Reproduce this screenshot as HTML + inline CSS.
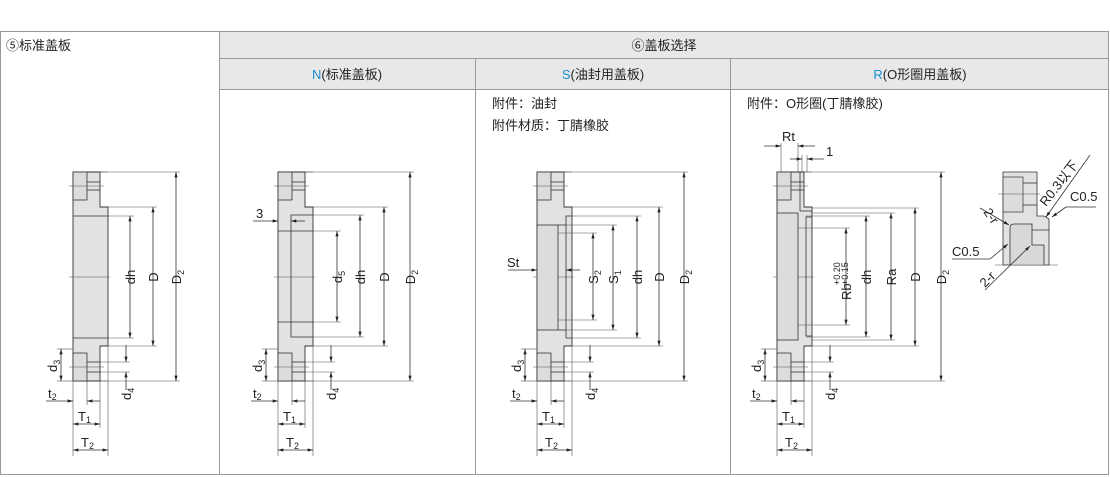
<!DOCTYPE html>
<html><head><meta charset="utf-8"><style>
body{margin:0;background:#fff;}
svg{display:block;font-family:"Liberation Sans","Noto Sans CJK SC",sans-serif;}
.t{font-size:13px;fill:#222;}
.d{font-size:13px;fill:#222;}
.r{font-size:13px;fill:#222;text-anchor:middle;}
.s{font-size:9px;fill:#222;}
.ln{stroke:#333;stroke-width:0.8;fill:none;}
.th{stroke:#555;stroke-width:0.6;fill:none;}
</style></head><body>
<svg width="1110" height="477" viewBox="0 0 1110 477" xmlns="http://www.w3.org/2000/svg">
<defs>
<marker id="a" viewBox="0 0 10 6" refX="10" refY="3" markerWidth="7" markerHeight="4" orient="auto-start-reverse"><path d="M0,0L10,3L0,6z" fill="#222"/></marker>
<g id="base">
<polygon points="73,172 100,172 100,207 108,207 108,346 100,346 100,381 73,381" fill="#e2e2e2" stroke="#333" stroke-width="0.9"/>
<rect x="73" y="172" width="14" height="28" fill="#dcdcdc" stroke="#333" stroke-width="0.8"/>
<rect x="73" y="353" width="14" height="28" fill="#dcdcdc" stroke="#333" stroke-width="0.8"/>
<line class="ln" x1="87" y1="182" x2="100" y2="182"/><line class="ln" x1="87" y1="190" x2="100" y2="190"/>
<line class="ln" x1="87" y1="362" x2="100" y2="362"/><line class="ln" x1="87" y1="372" x2="100" y2="372"/>
<line class="th" x1="69" y1="186" x2="104" y2="186"/><line class="th" x1="69" y1="367" x2="104" y2="367"/>
<line class="th" x1="69" y1="277" x2="110" y2="277"/>
<!-- d3 -->
<line class="th" x1="57" y1="349" x2="73" y2="349"/><line class="th" x1="57" y1="381" x2="73" y2="381"/>
<line class="ln" x1="61" y1="349" x2="61" y2="381" marker-start="url(#a)" marker-end="url(#a)"/>
<text class="d" transform="translate(57,372) rotate(-90)">d<tspan class="s" dy="3">3</tspan></text>
<!-- d4 -->
<line class="th" x1="100" y1="362" x2="130" y2="362"/><line class="th" x1="100" y1="372" x2="130" y2="372"/>
<line class="ln" x1="126" y1="345" x2="126" y2="362" marker-end="url(#a)"/><line class="ln" x1="126" y1="390" x2="126" y2="372" marker-end="url(#a)"/>
<text class="d" transform="translate(131,400) rotate(-90)">d<tspan class="s" dy="3">4</tspan></text>
<!-- t2 T1 T2 -->
<line class="th" x1="73" y1="381" x2="73" y2="456"/><line class="th" x1="87" y1="381" x2="87" y2="405"/>
<line class="th" x1="100" y1="381" x2="100" y2="428"/><line class="th" x1="108" y1="346" x2="108" y2="456"/>
<line class="ln" x1="46" y1="401" x2="73" y2="401" marker-end="url(#a)"/><line class="ln" x1="100" y1="401" x2="87" y2="401" marker-end="url(#a)"/>
<text class="d" x="48" y="398">t<tspan class="s" dy="2">2</tspan></text>
<line class="ln" x1="73" y1="424" x2="100" y2="424" marker-start="url(#a)" marker-end="url(#a)"/>
<text class="d" x="78" y="421">T<tspan class="s" dy="2">1</tspan></text>
<line class="ln" x1="73" y1="450" x2="108" y2="450" marker-start="url(#a)" marker-end="url(#a)"/>
<text class="d" x="81" y="447">T<tspan class="s" dy="2">2</tspan></text>
<line class="th" x1="100" y1="172" x2="108" y2="172"/><line class="th" x1="100" y1="381" x2="108" y2="381"/>
</g>
</defs>

<!-- table -->
<rect x="219.5" y="31.5" width="889" height="27" fill="#e8e8e8"/>
<rect x="219.5" y="58.5" width="889" height="31" fill="#e8e8e8"/>
<g stroke="#999" stroke-width="1" fill="none">
<rect x="0.5" y="31.5" width="1108" height="443"/>
<line x1="219.5" y1="31" x2="219.5" y2="475"/>
<line x1="219" y1="58.5" x2="1109" y2="58.5"/>
<line x1="219" y1="89.5" x2="1109" y2="89.5"/>
<line x1="475.5" y1="58" x2="475.5" y2="475"/>
<line x1="730.5" y1="58" x2="730.5" y2="475"/>
</g>
<text class="t" x="6" y="50">⑤标准盖板</text>
<text class="t" x="664" y="50" text-anchor="middle">⑥盖板选择</text>
<text class="t" x="347" y="79" text-anchor="middle"><tspan fill="#1a8fd0">N</tspan>(标准盖板)</text>
<text class="t" x="603" y="79" text-anchor="middle"><tspan fill="#1a8fd0">S</tspan>(油封用盖板)</text>
<text class="t" x="920" y="79" text-anchor="middle"><tspan fill="#1a8fd0">R</tspan>(O形圈用盖板)</text>
<text class="t" x="492" y="108">附件：油封</text>
<text class="t" x="492" y="130">附件材质：丁腈橡胶</text>
<text class="t" x="747" y="108">附件：O形圈(丁腈橡胶)</text>

<!-- panel 1 -->
<use href="#base"/>
<line class="ln" x1="73" y1="216" x2="108" y2="216"/><line class="ln" x1="73" y1="338" x2="108" y2="338"/>
<line class="th" x1="108" y1="216" x2="134" y2="216"/><line class="th" x1="108" y1="338" x2="134" y2="338"/>
<line class="ln" x1="130" y1="216" x2="130" y2="338" marker-start="url(#a)" marker-end="url(#a)"/>
<text class="r" transform="translate(135,277) rotate(-90)">dh</text>
<line class="th" x1="108" y1="207" x2="157" y2="207"/><line class="th" x1="108" y1="346" x2="157" y2="346"/>
<line class="ln" x1="153" y1="207" x2="153" y2="346" marker-start="url(#a)" marker-end="url(#a)"/>
<text class="r" transform="translate(158,277) rotate(-90)">D</text>
<line class="th" x1="100" y1="172" x2="180" y2="172"/><line class="th" x1="100" y1="381" x2="180" y2="381"/>
<line class="ln" x1="176" y1="172" x2="176" y2="381" marker-start="url(#a)" marker-end="url(#a)"/>
<text class="r" transform="translate(181,277) rotate(-90)">D<tspan class="s" dy="3">2</tspan></text>

<!-- panel 2 N -->
<g transform="translate(205,0)">
<use href="#base"/>
<polyline class="ln" points="108,215 86,215 86,337 108,337"/>
<line class="ln" x1="73" y1="231" x2="108" y2="231"/><line class="ln" x1="73" y1="322" x2="108" y2="322"/>
<line class="th" x1="108" y1="231" x2="136" y2="231"/><line class="th" x1="108" y1="322" x2="136" y2="322"/>
<line class="ln" x1="132" y1="231" x2="132" y2="322" marker-start="url(#a)" marker-end="url(#a)"/>
<text class="r" transform="translate(137,277) rotate(-90)">d<tspan class="s" dy="3">5</tspan></text>
<line class="th" x1="86" y1="215" x2="159" y2="215"/><line class="th" x1="86" y1="337" x2="159" y2="337"/>
<line class="ln" x1="155" y1="215" x2="155" y2="337" marker-start="url(#a)" marker-end="url(#a)"/>
<text class="r" transform="translate(160,277) rotate(-90)">dh</text>
<line class="th" x1="108" y1="207" x2="183" y2="207"/><line class="th" x1="108" y1="346" x2="183" y2="346"/>
<line class="ln" x1="179" y1="207" x2="179" y2="346" marker-start="url(#a)" marker-end="url(#a)"/>
<text class="r" transform="translate(184,277) rotate(-90)">D</text>
<line class="th" x1="100" y1="172" x2="209" y2="172"/><line class="th" x1="100" y1="381" x2="209" y2="381"/>
<line class="ln" x1="205" y1="172" x2="205" y2="381" marker-start="url(#a)" marker-end="url(#a)"/>
<text class="r" transform="translate(210,277) rotate(-90)">D<tspan class="s" dy="3">2</tspan></text>
<line class="ln" x1="48" y1="221" x2="73" y2="221" marker-end="url(#a)"/><line class="ln" x1="100" y1="221" x2="86" y2="221" marker-end="url(#a)"/>
<text class="d" x="51" y="218">3</text>
</g>

<!-- panel 3 S -->
<g transform="translate(464,0)">
<use href="#base"/>
<rect x="73" y="225" width="21" height="105" fill="#dcdcdc" stroke="#333" stroke-width="0.8"/>
<polyline class="ln" points="108,216 102,216 102,338 108,338"/>
<line class="ln" x1="94" y1="225" x2="102" y2="225"/><line class="ln" x1="94" y1="330" x2="102" y2="330"/>
<line class="th" x1="94" y1="233" x2="133" y2="233"/><line class="th" x1="94" y1="320" x2="133" y2="320"/>
<line class="ln" x1="129" y1="233" x2="129" y2="320" marker-start="url(#a)" marker-end="url(#a)"/>
<line class="th" x1="102" y1="225" x2="153" y2="225"/><line class="th" x1="102" y1="330" x2="153" y2="330"/>
<line class="ln" x1="149" y1="225" x2="149" y2="330" marker-start="url(#a)" marker-end="url(#a)"/>
<line class="th" x1="102" y1="216" x2="177" y2="216"/><line class="th" x1="102" y1="338" x2="177" y2="338"/>
<line class="ln" x1="173" y1="216" x2="173" y2="338" marker-start="url(#a)" marker-end="url(#a)"/>
<text class="r" transform="translate(134,277) rotate(-90)">S<tspan class="s" dy="3">2</tspan></text>
<text class="r" transform="translate(154,277) rotate(-90)">S<tspan class="s" dy="3">1</tspan></text>
<text class="r" transform="translate(178,277) rotate(-90)">dh</text>
<line class="th" x1="108" y1="207" x2="199" y2="207"/><line class="th" x1="108" y1="346" x2="199" y2="346"/>
<line class="ln" x1="195" y1="207" x2="195" y2="346" marker-start="url(#a)" marker-end="url(#a)"/>
<text class="r" transform="translate(200,277) rotate(-90)">D</text>
<line class="th" x1="100" y1="172" x2="224" y2="172"/><line class="th" x1="100" y1="381" x2="224" y2="381"/>
<line class="ln" x1="220" y1="172" x2="220" y2="381" marker-start="url(#a)" marker-end="url(#a)"/>
<text class="r" transform="translate(225,277) rotate(-90)">D<tspan class="s" dy="3">2</tspan></text>
<line class="ln" x1="44" y1="270" x2="73" y2="270" marker-end="url(#a)"/><line class="ln" x1="116" y1="270" x2="102" y2="270" marker-end="url(#a)"/>
<text class="d" x="43" y="267">St</text>
</g>

<!-- panel 4 R -->
<g transform="translate(704,0)">
<use href="#base"/>
<rect x="73" y="213" width="21" height="127" fill="#dcdcdc" stroke="#333" stroke-width="0.8"/>
<line class="ln" x1="96" y1="172" x2="96" y2="211"/><line class="ln" x1="96" y1="211" x2="108" y2="211"/>
<polyline class="ln" points="108,217 102,217 102,336 108,336"/>
<line class="th" x1="94" y1="228" x2="146" y2="228"/><line class="th" x1="94" y1="325" x2="146" y2="325"/>
<line class="ln" x1="142" y1="228" x2="142" y2="325" marker-start="url(#a)" marker-end="url(#a)"/>
<line class="th" x1="102" y1="216" x2="166" y2="216"/><line class="th" x1="102" y1="337" x2="166" y2="337"/>
<line class="ln" x1="162" y1="216" x2="162" y2="337" marker-start="url(#a)" marker-end="url(#a)"/>
<line class="th" x1="108" y1="213" x2="191" y2="213"/><line class="th" x1="108" y1="340" x2="191" y2="340"/>
<line class="ln" x1="187" y1="213" x2="187" y2="340" marker-start="url(#a)" marker-end="url(#a)"/>
<text class="d" transform="translate(147,300) rotate(-90)">Rb</text><text class="s" transform="translate(136,285) rotate(-90)">+0.20</text><text class="s" transform="translate(144,285) rotate(-90)">+0.15</text>
<text class="r" transform="translate(167,277) rotate(-90)">dh</text>
<text class="r" transform="translate(192,277) rotate(-90)">Ra</text>
<line class="th" x1="108" y1="208" x2="215" y2="208"/><line class="th" x1="108" y1="346" x2="215" y2="346"/>
<line class="ln" x1="211" y1="208" x2="211" y2="346" marker-start="url(#a)" marker-end="url(#a)"/>
<text class="r" transform="translate(216,277) rotate(-90)">D</text>
<line class="th" x1="100" y1="172" x2="241" y2="172"/><line class="th" x1="100" y1="381" x2="241" y2="381"/>
<line class="ln" x1="237" y1="172" x2="237" y2="381" marker-start="url(#a)" marker-end="url(#a)"/>
<text class="r" transform="translate(242,277) rotate(-90)">D<tspan class="s" dy="3">2</tspan></text>
<line class="th" x1="77" y1="143" x2="77" y2="172"/><line class="th" x1="94" y1="143" x2="94" y2="172"/>
<line class="th" x1="98" y1="155" x2="98" y2="172"/><line class="th" x1="103" y1="155" x2="103" y2="172"/>
<line class="ln" x1="60" y1="146" x2="77" y2="146" marker-end="url(#a)"/><line class="ln" x1="111" y1="146" x2="94" y2="146" marker-end="url(#a)"/>
<text class="d" x="78" y="141">Rt</text>
<line class="ln" x1="86" y1="159" x2="98" y2="159" marker-end="url(#a)"/><line class="ln" x1="120" y1="159" x2="103" y2="159" marker-end="url(#a)"/>
<text class="d" x="122" y="156">1</text>
</g>
<!-- R detail -->
<g>
<polygon points="1003,172 1037,172 1037,216 1044,216 1049,219 1049,265 1003,265" fill="#e2e2e2" stroke="#333" stroke-width="0.8"/>
<rect x="1003" y="177" width="20" height="35" fill="#dcdcdc" stroke="#333" stroke-width="0.7"/>
<line class="ln" x1="1023" y1="183" x2="1037" y2="183"/><line class="ln" x1="1023" y1="205" x2="1037" y2="205"/>
<line class="th" x1="998" y1="194" x2="1040" y2="194"/>
<path d="M1010,265 L1010,228 Q1010,224 1014,224 L1032,224 L1032,245 L1044,245 L1044,265" fill="#d8d8d8" stroke="#333" stroke-width="0.8"/>
<line class="th" x1="995" y1="265" x2="1058" y2="265"/>
<line class="ln" x1="1032" y1="230" x2="1049" y2="230"/>
<line class="ln" x1="1090" y1="155" x2="1046" y2="217" marker-end="url(#a)"/>
<line class="ln" x1="1066" y1="207" x2="1052" y2="217" marker-end="url(#a)"/>
<line class="ln" x1="1066" y1="207" x2="1096" y2="207"/>
<text class="d" x="1070" y="201">C0.5</text>
<text class="d" transform="translate(1046,207) rotate(-52)">R0.3以下</text>
<line class="ln" x1="980" y1="208" x2="1009" y2="225" marker-end="url(#a)"/>
<text class="d" transform="translate(983,212) rotate(55)">2-r</text>
<line class="ln" x1="952" y1="259" x2="990" y2="259"/><line class="ln" x1="990" y1="259" x2="1008" y2="244" marker-end="url(#a)"/>
<text class="d" x="952" y="256">C0.5</text>
<line class="ln" x1="985" y1="290" x2="1030" y2="246" marker-end="url(#a)"/>
<text class="d" transform="translate(985,288) rotate(-45)">2-r</text>
</g>
</svg>
</body></html>
